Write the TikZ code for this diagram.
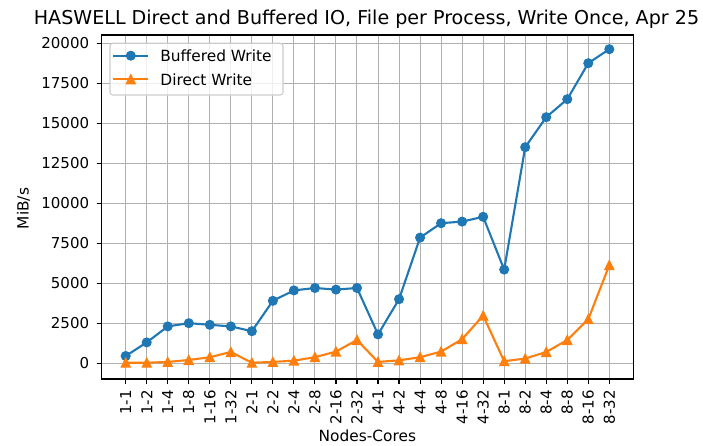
\documentclass[tikz,border=0pt]{standalone}
\usepackage{fontspec}
\setmainfont{DejaVu Sans}
\definecolor{tabblue}{HTML}{1F77B4}
\definecolor{taborange}{HTML}{FF7F0E}
\definecolor{gridgray}{HTML}{B0B0B0}
\definecolor{legedge}{HTML}{CCCCCC}
\begin{document}
\begin{tikzpicture}[x=1pt,y=1pt,
  ticklab/.style={font=\fontsize{15}{18}\selectfont, inner sep=0pt, text=black},
  axlab/.style={font=\fontsize{15.4}{18}\selectfont, inner sep=0pt, text=black},
  titlelab/.style={font=\fontsize{19.1}{22}\selectfont, inner sep=0pt, text=black},
  gridline/.style={draw=gridgray, line width=1pt},
  tickline/.style={draw=black, line width=1.1pt},
  bline/.style={draw=tabblue, line width=2.1pt, line join=round},
  dline/.style={draw=taborange, line width=2.1pt, line join=round},
  bmark/.style={circle, fill=tabblue, draw=tabblue, line width=1.4pt, minimum size=8.6pt, inner sep=0pt},
  dmark/.style={fill=taborange, draw=taborange, line width=1.4pt, line join=miter}]
\useasboundingbox (0,0) rectangle (703,445);
\def\xo{125.7}
\def\yo{81.8}
\def\dx{21.026}
\def\sk{16}% pixels per 1000 MiB/s
% grid
\foreach \i in {0,...,23} \draw[gridline] ({\xo+\dx*\i},66) -- ({\xo+\dx*\i},410);
\foreach \v in {0,2.5,...,20} \draw[gridline] (101.5,{\yo+\sk*\v}) -- (633.3,{\yo+\sk*\v});
% ticks and tick labels
\foreach \v/\t [count=\k] in {0/0,2.5/2500,5/5000,7.5/7500,10/10000,12.5/12500,15/15000,17.5/17500,20/20000} {
  \draw[tickline] (96.6,{\yo+\sk*\v}) -- (101.5,{\yo+\sk*\v});
  \node[ticklab, anchor=east] (yl\k) at (89.3,{\yo+\sk*\v}) {\t};
}
\foreach \l [count=\i from 0] in {1-1,1-2,1-4,1-8,1-16,1-32,2-1,2-2,2-4,2-8,2-16,2-32,4-1,4-2,4-4,4-8,4-16,4-32,8-1,8-2,8-4,8-8,8-16,8-32} {
  \draw[tickline] ({\xo+\dx*\i},66) -- ({\xo+\dx*\i},61.1);
  \node[ticklab, rotate=90, anchor=east] (xl\i) at ({\xo+\dx*\i},55) {\l};
}
% data (thousands of MiB/s)
\foreach \v [count=\i from 0] in {0.45,1.3,2.3,2.5,2.4,2.3,2.0,3.9,4.55,4.7,4.6,4.7,1.8,4.0,7.85,8.75,8.85,9.15,5.85,13.5,15.375,16.5,18.75,19.625}
  \coordinate (b\i) at ({\xo+\dx*\i},{\yo+\sk*\v});
\foreach \v [count=\i from 0] in {0.03,0.03,0.08,0.2,0.375,0.7,0.03,0.08,0.16,0.375,0.725,1.45,0.08,0.18,0.375,0.725,1.5,2.975,0.125,0.29,0.7,1.45,2.75,6.125}
  \coordinate (d\i) at ({\xo+\dx*\i},{\yo+\sk*\v});
\draw[bline] (b0) \foreach \i in {1,...,23} {-- (b\i)};
\foreach \i in {0,...,23} \node[bmark] (bm\i) at (b\i) {};
\draw[dline] (d0) \foreach \i in {1,...,23} {-- (d\i)};
\foreach \i in {0,...,23} \filldraw[dmark] (d\i) ++(0,4.3) -- ++(-4.3,-8.6) -- ++(8.6,0) -- cycle;
% frame
\draw[line width=1.1pt] (101.5,66) rectangle (633.3,410);
% legend
\draw[draw=legedge, fill=white, fill opacity=0.8, rounded corners=2.8pt, line width=1.1pt] (110,350) rectangle (283,401.7);
\coordinate (lb1) at (113.3,389.3);
\coordinate (lb2) at (148.3,389.3);
\coordinate (ld1) at (113.3,365.7);
\coordinate (ld2) at (148.3,365.7);
\draw[bline] (lb1) -- (lb2);
\node[bmark] (lbm) at (130.8,389.3) {};
\draw[dline] (ld1) -- (ld2);
\filldraw[dmark] (130.8,365.7) ++(0,4.3) -- ++(-4.3,-8.6) -- ++(8.6,0) -- cycle;
\node[axlab, anchor=west] (lbt) at (160.2,389.3) {Buffered Write};
\node[axlab, anchor=west] (ldt) at (160.2,365.7) {Direct Write};
% labels
\node[axlab, rotate=90, anchor=base] (ylab) at (28.6,236.5) {MiB/s};
\node[axlab, anchor=base] (xlab) at (367.4,3.2) {Nodes-Cores};
\node[titlelab, anchor=base] (title) at (366.5,420) {HASWELL Direct and Buffered IO, File per Process, Write Once, Apr 25};
\end{tikzpicture}
\end{document}
